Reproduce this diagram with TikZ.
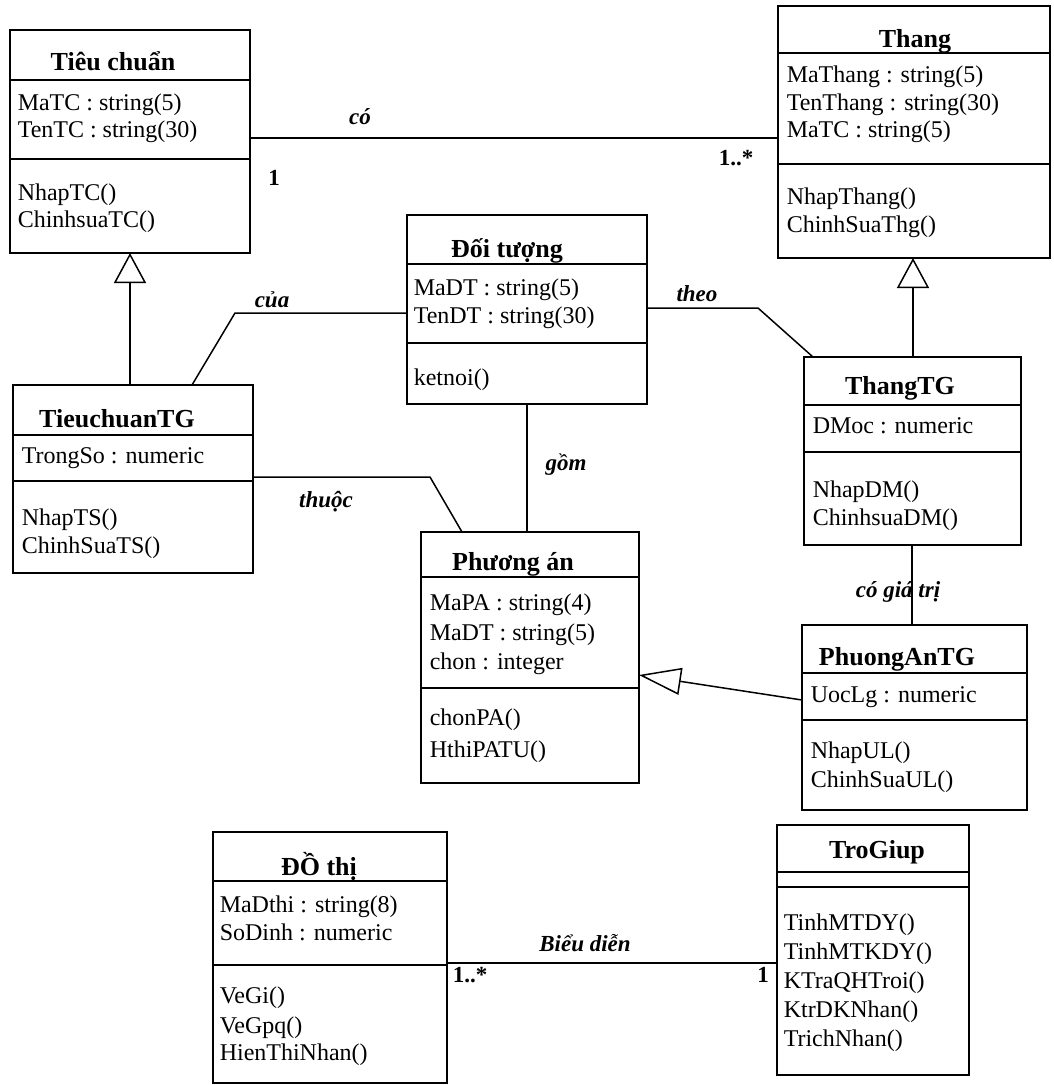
\documentclass[tikz,border=0pt]{standalone}
\usepackage{fontspec}
\setmainfont{Liberation Serif}
\usetikzlibrary{arrows.meta}
% class rectangle: name, left, top, right, bottom
\newcommand\umlbox[5]{\node[classrect, minimum width={(#4-#2)*1pt}, minimum height={(#5-#3)*1pt}] (#1) at (#2,#3) {};}
% compartment rule across a class at height #2
\newcommand\umlrule[2]{\draw (#1.west |- 0,#2) -- (#1.east |- 0,#2);}
\begin{document}
\begin{tikzpicture}[x=1pt,y=-1pt,
  line width=1.5pt,
  classrect/.style={draw, rectangle, inner sep=0pt, outer sep=0pt, anchor=north west},
  ctitle/.style={font=\fontsize{26}{30}\selectfont\bfseries, inner sep=0pt, anchor=base},
  member/.style={font=\fontsize{24}{28}\selectfont, inner sep=0pt, anchor=base west},
  rel/.style={font=\fontsize{23}{28}\selectfont\bfseries\itshape, inner sep=0pt},
  mult/.style={font=\fontsize{23}{28}\selectfont\bfseries, inner sep=0pt},
  gen/.style={-{Triangle[open, length=30pt, width=32pt, line width=1.5pt]}},
  genside/.style={-{Triangle[open, length=42pt, width=27pt, line width=1.5pt]}},
]
\useasboundingbox[fill=white] (0,0) rectangle (1054,1085);

% ---------- Tieu chuan ----------
\umlbox{tc}{10}{30}{250}{253}
\umlrule{tc}{80}\umlrule{tc}{159}
\node[ctitle] (tc-t) at (113,70) {Tiêu chuẩn};
\node[member] (tc-a1) at (17,110) {MaTC : string(5)};
\node[member] (tc-a2) at (17,137) {TenTC : string(30)};
\node[member] (tc-m1) at (17,200) {NhapTC()};
\node[member] (tc-m2) at (17,227) {ChinhsuaTC()};

% ---------- Thang ----------
\umlbox{th}{778}{6}{1050}{258}
\umlrule{th}{53}\umlrule{th}{164}
\node[ctitle] (th-t) at (915,47) {Thang};
\node[member] (th-a1) at (786,82) {MaThang : string(5)};
\node[member] (th-a2) at (786,110) {TenThang : string(30)};
\node[member] (th-a3) at (786,137) {MaTC : string(5)};
\node[member] (th-m1) at (786,204) {NhapThang()};
\node[member] (th-m2) at (786,232) {ChinhSuaThg()};

% ---------- Doi tuong ----------
\umlbox{dt}{407}{215}{647}{404}
\umlrule{dt}{264}\umlrule{dt}{343}
\node[ctitle] (dt-t) at (507,257) {Đối tượng};
\node[member] (dt-a1) at (413,295) {MaDT : string(5)};
\node[member] (dt-a2) at (413,323) {TenDT : string(30)};
\node[member] (dt-m1) at (413,385) {ketnoi()};

% ---------- TieuchuanTG ----------
\umlbox{ttg}{13}{385}{253}{573}
\umlrule{ttg}{435}\umlrule{ttg}{481}
\node[ctitle] (ttg-t) at (117,427) {TieuchuanTG};
\node[member] (ttg-a1) at (21,463) {TrongSo : numeric};
\node[member] (ttg-m1) at (21,525) {NhapTS()};
\node[member] (ttg-m2) at (21,553) {ChinhSuaTS()};

% ---------- ThangTG ----------
\umlbox{thtg}{804}{357}{1021}{545}
\umlrule{thtg}{405}\umlrule{thtg}{452}
\node[ctitle] (thtg-t) at (900,394) {ThangTG};
\node[member] (thtg-a1) at (812,433) {DMoc : numeric};
\node[member] (thtg-m1) at (812,497) {NhapDM()};
\node[member] (thtg-m2) at (812,525) {ChinhsuaDM()};

% ---------- Phuong an ----------
\umlbox{pa}{421}{532}{639}{783}
\umlrule{pa}{577}\umlrule{pa}{688}
\node[ctitle] (pa-t) at (513,570) {Phương án};
\node[member] (pa-a1) at (429,610) {MaPA : string(4)};
\node[member] (pa-a2) at (429,640) {MaDT : string(5)};
\node[member] (pa-a3) at (429,669) {chon : integer};
\node[member] (pa-m1) at (429,725) {chonPA()};
\node[member] (pa-m2) at (429,757) {HthiPATU()};

% ---------- PhuongAnTG ----------
\umlbox{patg}{802}{625}{1027}{810}
\umlrule{patg}{673}\umlrule{patg}{720}
\node[ctitle] (patg-t) at (897,665) {PhuongAnTG};
\node[member] (patg-a1) at (810,702) {UocLg : numeric};
\node[member] (patg-m1) at (810,758) {NhapUL()};
\node[member] (patg-m2) at (810,787) {ChinhSuaUL()};

% ---------- Do thi ----------
\umlbox{dothi}{213}{832}{447}{1083}
\umlrule{dothi}{881}\umlrule{dothi}{965}
\node[ctitle] (dothi-t) at (319,875) {ĐỒ thị};
\node[member] (dothi-a1) at (219,912) {MaDthi : string(8)};
\node[member] (dothi-a2) at (219,940) {SoDinh : numeric};
\node[member] (dothi-m1) at (219,1003) {VeGi()};
\node[member] (dothi-m2) at (219,1033) {VeGpq()};
\node[member] (dothi-m3) at (219,1060) {HienThiNhan()};

% ---------- TroGiup ----------
\umlbox{tg}{777}{825}{969}{1075}
\umlrule{tg}{872}\umlrule{tg}{887}
\node[ctitle] (tg-t) at (877,858) {TroGiup};
\node[member] (tg-m1) at (783,930) {TinhMTDY()};
\node[member] (tg-m2) at (783,959) {TinhMTKDY()};
\node[member] (tg-m3) at (783,988) {KTraQHTroi()};
\node[member] (tg-m4) at (783,1017) {KtrDKNhan()};
\node[member] (tg-m5) at (783,1046) {TrichNhan()};

% ---------- associations ----------
\draw (tc.east |- 0,138) -- (th.west |- 0,138);
\node[rel] (l-co) at (360,117) {có};
\node[mult] (m-tc) at (274,178) {1};
\node[mult] (m-th) at (736,158) {1..*};

\draw (ttg.north -| 192,0) -- (235,313) -- (dt.west |- 0,313);
\node[rel] (l-cua) at (272,300) {của};

\draw (dt.east |- 0,308) -- (758,308) -- (thtg.north -| 813,0);
\node[rel] (l-theo) at (697,294) {theo};

\draw (dt.south -| 527,0) -- (pa.north -| 527,0);
\node[rel] (l-gom) at (566,465) {gồm};

\draw (ttg.east |- 0,477) -- (430,477) -- (pa.north -| 462,0);
\node[rel] (l-thuoc) at (326,502) {thuộc};

\draw (thtg.south -| 912,0) -- (patg.north -| 912,0);
\node[rel] (l-cogiatri) at (898,592) {có giá trị};

\draw (dothi.east |- 0,963) -- (tg.west |- 0,963);
\node[rel] (l-bieudien) at (585,943) {Biểu diễn};
\node[mult] (m-dothi) at (470,975) {1..*};
\node[mult] (m-tg) at (763,975) {1};

% ---------- generalisations ----------
\draw[gen] (ttg.north -| 130,0) -- (tc.south -| 130,0);
\draw[gen] (thtg.north -| 913,0) -- (th.south -| 913,0);
\draw[genside] (patg.west |- 0,700) -- (pa.east |- 0,675);
\end{tikzpicture}
\end{document}
